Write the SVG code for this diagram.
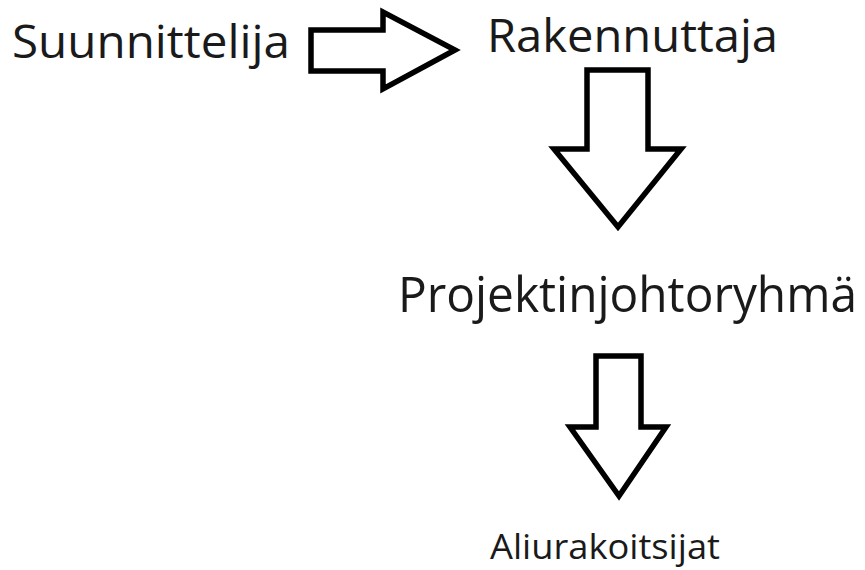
<svg xmlns="http://www.w3.org/2000/svg" width="865" height="570" viewBox="0 0 865 570">
<style>
.arrow{fill:#fff;stroke:#000;stroke-width:5.5;stroke-linejoin:miter}
.lbl{font-family:"Open Sans","Noto Sans",sans-serif;fill:#1a1a1a}
</style>
<rect width="865" height="570" fill="#fff"/>
<g id="connectors">
<polygon class="arrow" points="311,30 383,30 383,12 455,50 383,89 383,71 311,71"/>
<polygon class="arrow" points="587,70 648,70 648,149 681,149 618,227 554,149 587,149"/>
<polygon class="arrow" points="596,356 641,356 641,427 666,427 619,496 570,427 596,427"/>
</g>
<g id="suunnittelija"><text class="lbl" x="12" y="58" font-size="46" textLength="278" lengthAdjust="spacingAndGlyphs">Suunnittelija</text></g>
<g id="rakennuttaja"><text class="lbl" x="487" y="52" font-size="46" textLength="291" lengthAdjust="spacingAndGlyphs">Rakennuttaja</text></g>
<g id="projektinjohtoryhma"><text class="lbl" x="398" y="312" font-size="49" textLength="459" lengthAdjust="spacingAndGlyphs">Projektinjohtoryhmä</text></g>
<g id="aliurakoitsijat"><text class="lbl" x="490" y="559" font-size="34" textLength="230" lengthAdjust="spacingAndGlyphs">Aliurakoitsijat</text></g>
</svg>
